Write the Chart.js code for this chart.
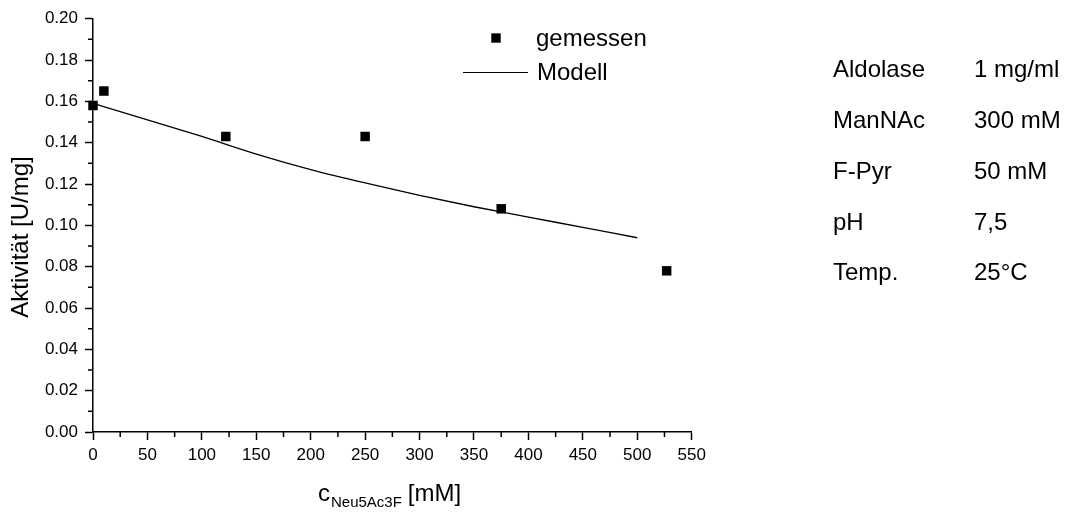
<!DOCTYPE html>
<html><head><meta charset="utf-8">
<script src="https://cdn.jsdelivr.net/npm/chart.js@4.4.1/dist/chart.umd.min.js"></script>
<style>html,body{margin:0;padding:0;background:#fff}#wrap{width:1068px;height:513px;position:relative}</style>
</head><body><div id="wrap"><canvas id="c"></canvas></div>
<script>
// Measured data (gemessen)
const measuredX = [0, 10, 122, 250, 375, 527];
const measuredY = [0.158, 0.165, 0.143, 0.143, 0.108, 0.078];
// Model curve (Modell)
const modelX = [0, 50, 100, 150, 200, 250, 300, 350, 400, 450, 500];
const modelY = [0.159, 0.151, 0.143, 0.1345, 0.127, 0.1205, 0.1145, 0.109, 0.104, 0.099, 0.094];
// Axis ticks
const xTicks = [0, 50, 100, 150, 200, 250, 300, 350, 400, 450, 500, 550];
const xTickLabels = ['0','50','100','150','200','250','300','350','400','450','500','550'];
const xMinor = [25, 75, 125, 175, 225, 275, 325, 375, 425, 475, 525];
const yTicks = [0, 0.02, 0.04, 0.06, 0.08, 0.10, 0.12, 0.14, 0.16, 0.18, 0.20];
const yTickLabels = ['0.00','0.02','0.04','0.06','0.08','0.10','0.12','0.14','0.16','0.18','0.20'];
const yMinor = [0.01, 0.03, 0.05, 0.07, 0.09, 0.11, 0.13, 0.15, 0.17, 0.19];
// Conditions box
const infoLabels = ['Aldolase', 'ManNAc', 'F-Pyr', 'pH', 'Temp.'];
const infoValues = ['1 mg/ml', '300 mM', '50 mM', '7,5', '25°C'];
const legendLabels = ['gemessen', 'Modell'];

const FONT = 'Arial, "Liberation Sans", sans-serif';

const decor = {
  id: 'decor',
  afterDraw(chart) {
    const {ctx, scales: {x, y}} = chart;
    ctx.save();
    ctx.strokeStyle = '#000';
    ctx.fillStyle = '#000';
    ctx.lineWidth = 1.5;
    // minor ticks
    ctx.beginPath();
    xMinor.forEach(v => { const px = x.getPixelForValue(v); ctx.moveTo(px, y.bottom); ctx.lineTo(px, y.bottom + 5); });
    yMinor.forEach(v => { const py = y.getPixelForValue(v); ctx.moveTo(x.left, py); ctx.lineTo(x.left - 5, py); });
    ctx.stroke();

    // legend
    ctx.font = '24px ' + FONT;
    ctx.textBaseline = 'middle';
    ctx.textAlign = 'left';
    ctx.fillRect(496 - 4.7, 38 - 4.7, 9.4, 9.4);
    ctx.fillText(legendLabels[0], 536, 39);
    ctx.lineWidth = 1.2;
    ctx.beginPath(); ctx.moveTo(463, 72.5); ctx.lineTo(528, 72.5); ctx.stroke();
    ctx.fillText(legendLabels[1], 537, 73);

    // info
    const rowY = [70, 121, 172, 223, 273];
    infoLabels.forEach((t, i) => {
      ctx.fillText(t, 833, rowY[i]);
      ctx.fillText(infoValues[i], 974, rowY[i]);
    });

    // x title with subscript
    ctx.textBaseline = 'alphabetic';
    let cx = 318;
    ctx.font = '24px ' + FONT;
    ctx.fillText('c', cx, 501);
    cx += ctx.measureText('c').width + 1;
    ctx.font = '15px ' + FONT;
    ctx.fillText('Neu5Ac3F', cx, 507);
    cx += ctx.measureText('Neu5Ac3F').width + 6;
    ctx.font = '24px ' + FONT;
    ctx.fillText('[mM]', cx, 501);

    // y title
    ctx.translate(21, 237);
    ctx.rotate(-Math.PI / 2);
    ctx.textAlign = 'center';
    ctx.textBaseline = 'middle';
    ctx.fillText('Aktivität [U/mg]', 0, 0);
    ctx.restore();
  }
};

new Chart(document.getElementById('c'), {
  type: 'scatter',
  data: {
    datasets: [
      {
        label: 'Modell',
        data: modelX.map((v, i) => ({x: v, y: modelY[i]})),
        showLine: true,
        borderColor: '#000',
        borderWidth: 1.3,
        pointRadius: 0,
        cubicInterpolationMode: 'monotone',
        fill: false,
        clip: false
      },
      {
        label: 'gemessen',
        data: measuredX.map((v, i) => ({x: v, y: measuredY[i]})),
        pointStyle: 'rect',
        pointRadius: 6.7,
        backgroundColor: '#000',
        borderColor: '#000',
        borderWidth: 0,
        clip: false
      }
    ]
  },
  options: {
    responsive: true,
    maintainAspectRatio: false,
    animation: false,
    events: [],
    layout: { padding: { left: 0, top: 18.7, right: 376.3, bottom: 0 } },
    plugins: { legend: { display: false }, tooltip: { enabled: false } },
    scales: {
      x: {
        type: 'linear', min: 0, max: 550,
        afterBuildTicks: s => { s.ticks = xTicks.map(v => ({value: v})); },
        afterFit: s => { s.height = 81; },
        ticks: {
          color: '#000', font: { family: FONT, size: 17 }, padding: 5, maxRotation: 0, autoSkip: false,
          callback: (v, i) => xTickLabels[i]
        },
        grid: { drawOnChartArea: false, drawTicks: true, tickLength: 8, tickColor: '#000', tickWidth: 1.5 },
        border: { display: true, color: '#000', width: 1.5 }
      },
      y: {
        type: 'linear', min: 0, max: 0.2,
        afterBuildTicks: s => { s.ticks = yTicks.map(v => ({value: v})); },
        afterFit: s => { s.width = 93; },
        ticks: {
          color: '#000', font: { family: FONT, size: 17 }, padding: 7, autoSkip: false,
          callback: (v, i) => yTickLabels[i]
        },
        grid: { drawOnChartArea: false, drawTicks: true, tickLength: 8, tickColor: '#000', tickWidth: 1.5 },
        border: { display: true, color: '#000', width: 1.5 }
      }
    }
  },
  plugins: [decor]
});
</script>
</body></html>
